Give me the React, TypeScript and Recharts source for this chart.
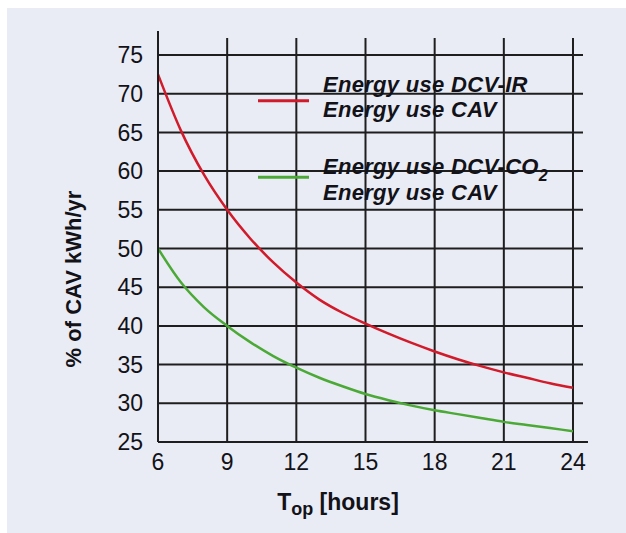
import React from 'react';
import { LineChart, Line, XAxis, YAxis, CartesianGrid, Legend, ReferenceLine, Label } from 'recharts';

const hours = [6, 7, 8, 9, 10, 11, 12, 13, 14, 15, 16, 17, 18, 19, 20, 21, 22, 23, 24];
const irRatio = [72.5, 65.2, 59.5, 55, 51.3, 48.2, 45.6, 43.4, 41.7, 40.3, 39.0, 37.8, 36.7, 35.7, 34.8, 34.0, 33.3, 32.6, 32.0];
const co2Ratio = [50, 45.6, 42.4, 40, 37.9, 36.1, 34.6, 33.3, 32.2, 31.2, 30.4, 29.7, 29.1, 28.6, 28.1, 27.6, 27.2, 26.8, 26.4];
const xTicks = [6, 9, 12, 15, 18, 21, 24];
const yTicks = [25, 30, 35, 40, 45, 50, 55, 60, 65, 70, 75];
const xTitle = 'T';
const xTitleSub = 'op';
const xTitleRest = ' [hours]';
const yTitle = '% of CAV kWh/yr';
const irNumerator = 'Energy use DCV-IR';
const co2Numerator = 'Energy use DCV-CO';
const denominator = 'Energy use CAV';

const data = hours.map((h, i) => ({ hours: h, ir: irRatio[i], co2: co2Ratio[i] }));

const FONT = '"Liberation Sans", Arial, Helvetica, sans-serif';
const INK = '#121218';
const GRID = '#1e1e1e';
const RED = '#d11a2a';
const GREEN = '#4ba936';

const LegendContent = () => (
  <svg width={340} height={160} style={{ overflow: 'visible' }}>
    <line x1={8} x2={59} y1={40.7} y2={40.7} stroke={RED} strokeWidth={3} />
    <line x1={8} x2={59} y1={117.3} y2={117.3} stroke={GREEN} strokeWidth={3} />
    <g fontFamily={FONT} fontStyle="italic" fontWeight="bold" fontSize={22} letterSpacing={0.3} fill={INK}>
      <text x={73} y={31.5}>{irNumerator}</text>
      <text x={73} y={57}>{denominator}</text>
      <text x={73} y={113.5}>
        {co2Numerator}
        <tspan dy={7} fontSize={16}>2</tspan>
      </text>
      <text x={73} y={140}>{denominator}</text>
    </g>
  </svg>
);

export default function App() {
  return (
    <div
      style={{
        position: 'absolute',
        left: 7,
        top: 8,
        width: 619,
        height: 525,
        background: '#e9ecf4',
      }}
    >
      <LineChart width={619} height={525} data={data} margin={{ top: 30, right: 43, left: 0, bottom: 0 }}>
        <CartesianGrid stroke={GRID} strokeWidth={2} horizontalValues={yTicks} verticalValues={xTicks} />
        <XAxis
          type="number"
          dataKey="hours"
          domain={[6, 24.434]}
          ticks={xTicks}
          allowDataOverflow
          height={91}
          axisLine={{ stroke: GRID, strokeWidth: 2 }}
          tickLine={false}
          tickMargin={6}
          tick={{ fontSize: 23, fill: INK, fontFamily: FONT }}
        >
          <Label
            content={() => (
              <text x={331} y={502} textAnchor="middle" fontFamily={FONT} fontWeight="bold" fontSize={23} fill={INK}>
                {xTitle}
                <tspan dy={5} fontSize={18}>{xTitleSub}</tspan>
                <tspan dy={-5}>{xTitleRest}</tspan>
              </text>
            )}
          />
        </XAxis>
        <YAxis
          type="number"
          domain={[25, 77.2]}
          ticks={yTicks}
          allowDataOverflow
          width={151}
          axisLine={{ stroke: GRID, strokeWidth: 2 }}
          tickLine={false}
          tickMargin={9}
          tick={{ fontSize: 23, fill: INK, fontFamily: FONT }}
        >
          <Label
            content={() => (
              <text
                x={66}
                y={271}
                transform="rotate(-90 66 271)"
                textAnchor="middle"
                dominantBaseline="central"
                fontFamily={FONT}
                fontWeight="bold"
                fontSize={22}
                fill={INK}
              >
                {yTitle}
              </text>
            )}
          />
        </YAxis>
        <ReferenceLine
          segment={[{ x: 6, y: 25 }, { x: 6, y: 78.1 }]}
          ifOverflow="visible"
          stroke={GRID}
          strokeWidth={2}
        />
        <ReferenceLine
          segment={[{ x: 6, y: 25 }, { x: 24.65, y: 25 }]}
          ifOverflow="visible"
          stroke={GRID}
          strokeWidth={2}
        />
        <Legend
          layout="horizontal"
          verticalAlign="middle"
          align="center"
          content={() => <LegendContent />}
          wrapperStyle={{ left: 243, top: 52, width: 340, height: 160 }}
        />
        <Line
          type="monotone"
          dataKey="ir"
          stroke={RED}
          strokeWidth={2.5}
          dot={false}
          isAnimationActive={false}
        />
        <Line
          type="monotone"
          dataKey="co2"
          stroke={GREEN}
          strokeWidth={2.5}
          dot={false}
          isAnimationActive={false}
        />
      </LineChart>
    </div>
  );
}
